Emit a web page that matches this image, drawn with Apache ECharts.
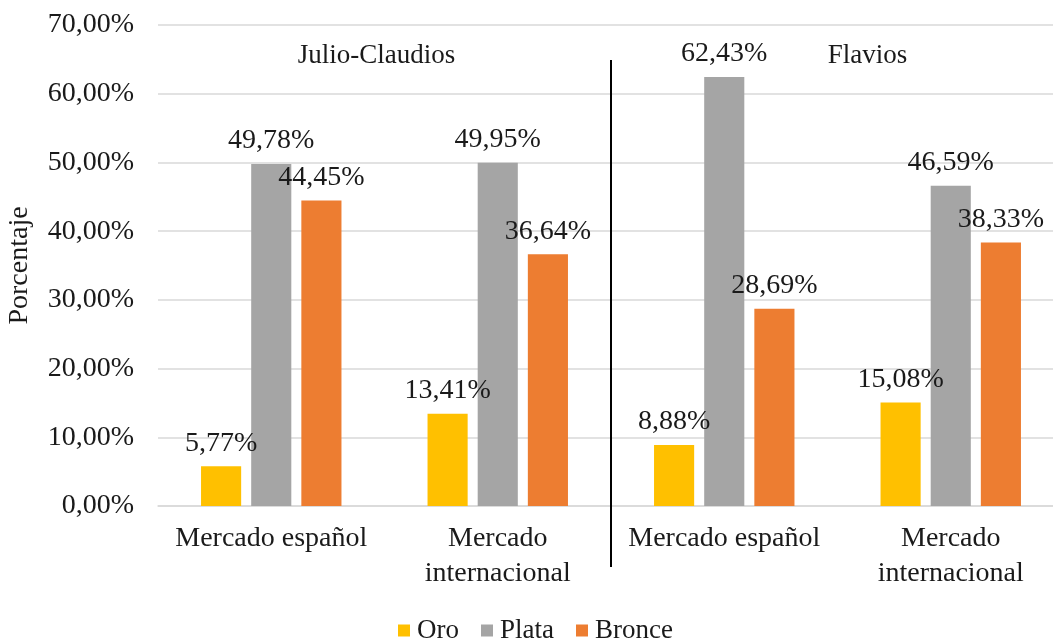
<!DOCTYPE html>
<html>
<head>
<meta charset="utf-8">
<script src="https://cdn.jsdelivr.net/npm/echarts@6/dist/echarts.min.js"></script>
<style>
  html, body { margin: 0; padding: 0; background: #fff; }
  #chart { width: 1053px; height: 641px; }
</style>
</head>
<body>
<div id="chart"></div>
<script>
// Market categories (Julio-Claudios: first two, Flavios: last two)
const categories = ['Mercado español', 'Mercado internacional', 'Mercado español', 'Mercado internacional'];
// Share of coins by metal, in percent
const oro = [5.77, 13.41, 8.88, 15.08];
const plata = [49.78, 49.95, 62.43, 46.59];
const bronce = [44.45, 36.64, 28.69, 38.33];
const seriesNames = ['Oro', 'Plata', 'Bronce'];
const periods = ['Julio-Claudios', 'Flavios'];

const FONT = '"Liberation Serif", "Times New Roman", serif';
const FS = 28;
const TXT = '#1a1a1a';
const fmt = v => v.toFixed(2).replace('.', ',') + '%';

const chart = echarts.init(document.getElementById('chart'));

function barSeries(name, data, color) {
  return {
    name, type: 'bar', data,
    barGap: '25%', barCategoryGap: '38%',
    itemStyle: { color },
    label: {
      show: true, position: 'top', distance: 9,
      fontFamily: FONT, fontSize: FS, color: TXT,
      formatter: p => fmt(p.value)
    }
  };
}

chart.setOption({
  animation: false,
  textStyle: { fontFamily: FONT },
  grid: { left: 158, right: -11, top: 25, bottom: 135, outerBoundsMode: 'none', containLabel: false },
  legend: {
    data: seriesNames,
    top: 612, left: 393,
    itemWidth: 12, itemHeight: 12, itemGap: 22,
    icon: 'rect',
    textStyle: { fontFamily: FONT, fontSize: 27, color: TXT, padding: [0, 0, 0, 2] }
  },
  xAxis: {
    type: 'category', data: categories,
    axisLine: { lineStyle: { color: '#d9d9d9', width: 1.5 } },
    axisTick: { show: false },
    axisLabel: {
      interval: 0,
      fontFamily: FONT, fontSize: FS, color: TXT, margin: 15, lineHeight: 35,
      formatter: v => v.replace(' internacional', '\ninternacional')
    }
  },
  yAxis: {
    type: 'value', min: 0, max: 70, interval: 10,
    name: 'Porcentaje', nameLocation: 'middle', nameGap: 124, nameRotate: 90,
    nameTextStyle: { fontFamily: FONT, fontSize: FS, color: TXT },
    axisLine: { show: false }, axisTick: { show: false },
    splitLine: { lineStyle: { color: '#d9d9d9', width: 1.5 } },
    axisLabel: { fontFamily: FONT, fontSize: FS, color: TXT, margin: 24, formatter: v => fmt(v) }
  },
  series: [
    barSeries(seriesNames[0], oro, '#FFC000'),
    barSeries(seriesNames[1], plata, '#A5A5A5'),
    barSeries(seriesNames[2], bronce, '#ED7D31')
  ]
});

// Divider between the two periods, placed halfway between categories 2 and 3
const c0 = chart.convertToPixel({ xAxisIndex: 0 }, 0);
const c1 = chart.convertToPixel({ xAxisIndex: 0 }, 1);
const c2 = chart.convertToPixel({ xAxisIndex: 0 }, 2);
const c3 = chart.convertToPixel({ xAxisIndex: 0 }, 3);
const xDiv = (c1 + c2) / 2;
const yTitle = chart.convertToPixel({ yAxisIndex: 0 }, 65.5);

chart.setOption({
  graphic: [
    { type: 'line', shape: { x1: xDiv, y1: 60, x2: xDiv, y2: 567 }, style: { stroke: '#000', lineWidth: 2 }, z: 10 },
    { type: 'text', x: (c0 + c1) / 2 - 8, y: yTitle, style: { text: periods[0], fontFamily: FONT, fontSize: 27, fill: TXT, align: 'center', verticalAlign: 'middle' } },
    { type: 'text', x: (c2 + c3) / 2 + 30, y: yTitle, style: { text: periods[1], fontFamily: FONT, fontSize: 27, fill: TXT, align: 'center', verticalAlign: 'middle' } }
  ]
});
</script>
</body>
</html>
